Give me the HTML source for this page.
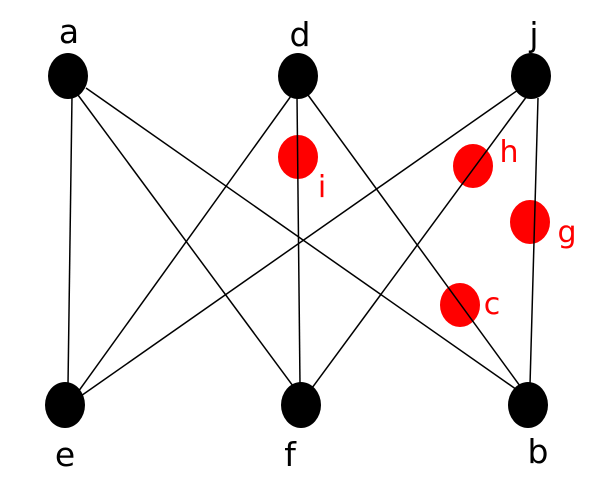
<!DOCTYPE html>
<html><head><style>body{margin:0;background:#fff}</style></head><body>
<svg width="606" height="490" xmlns="http://www.w3.org/2000/svg" font-family="DejaVu Sans, Liberation Sans, sans-serif">
<g fill="#f00">
<ellipse cx="298" cy="157" rx="20" ry="22"/>
<ellipse cx="473" cy="166" rx="20" ry="22"/>
<ellipse cx="530" cy="222" rx="20" ry="22"/>
<ellipse cx="460" cy="305" rx="20" ry="22"/>
</g>
<g stroke="#000" stroke-width="1.5">
<line x1="72" y1="96" x2="68" y2="385"/>
<line x1="78" y1="95" x2="293" y2="386"/>
<line x1="86" y1="88" x2="520" y2="392"/>
<line x1="291" y1="96" x2="78" y2="392"/>
<line x1="297" y1="96" x2="300" y2="385"/>
<line x1="308" y1="95" x2="520" y2="386"/>
<line x1="518" y1="90" x2="78" y2="398"/>
<line x1="527" y1="96" x2="312" y2="388"/>
<line x1="538" y1="98" x2="530" y2="385"/>
</g>
<g fill="#000">
<ellipse cx="68" cy="76" rx="20" ry="23"/>
<ellipse cx="298" cy="76" rx="20" ry="23"/>
<ellipse cx="531" cy="76" rx="20" ry="23"/>
<ellipse cx="65" cy="405" rx="20" ry="23"/>
<ellipse cx="301" cy="405" rx="20" ry="23"/>
<ellipse cx="528" cy="405" rx="20" ry="23"/>
</g>
<g font-size="33" fill="#000" text-anchor="middle">
<text x="69" y="43">a</text>
<text x="300" y="46">d</text>
<text x="534" y="46">j</text>
<text x="65" y="466">e</text>
<text x="290" y="466">f</text>
<text x="538" y="463">b</text>
</g>
<g font-size="30" fill="#f00" text-anchor="middle">
<text x="322" y="197">i</text>
<text x="509" y="162">h</text>
<text x="567" y="242">g</text>
<text x="492" y="314">c</text>
</g>
</svg>
</body></html>
